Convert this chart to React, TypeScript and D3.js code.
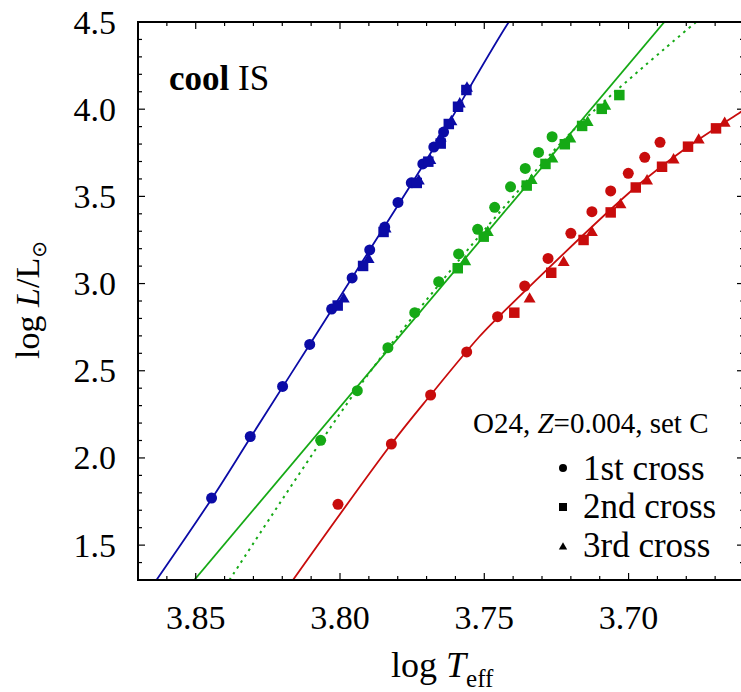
import React from 'react';
import * as d3 from 'd3';

const W = 741;
const H = 692;
const plot = { left: 138, right: 744, top: 22, bottom: 580 };

// [log Teff, log L] for each instability-strip crossing
const blueFirst: [number, number][] = [
  [3.8445, 1.770], [3.8311, 2.123], [3.8199, 2.410], [3.8105, 2.651], [3.8029, 2.854],
  [3.7958, 3.032], [3.7897, 3.193], [3.7845, 3.324], [3.7799, 3.465], [3.7753, 3.578],
  [3.7713, 3.686], [3.7675, 3.783], [3.7641, 3.869],
];
const blueSecond: [number, number][] = [
  [3.8008, 2.874], [3.7920, 3.101], [3.7849, 3.296], [3.7734, 3.577], [3.7694, 3.699],
  [3.7651, 3.803], [3.7623, 3.915], [3.7591, 4.014], [3.7562, 4.110],
];
const blueThird: [number, number][] = [
  [3.7987, 2.911], [3.7901, 3.138], [3.7842, 3.313], [3.7727, 3.588], [3.7687, 3.705],
  [3.7651, 3.835], [3.7614, 3.928], [3.7585, 4.030], [3.7560, 4.120],
];

const greenFirst: [number, number][] = [
  [3.8067, 2.101], [3.7940, 2.386], [3.7834, 2.632], [3.7741, 2.833], [3.7658, 3.011],
  [3.7589, 3.170], [3.7523, 3.311], [3.7464, 3.437], [3.7409, 3.555], [3.7358, 3.660],
  [3.7312, 3.752], [3.7265, 3.842],
];
const greenSecond: [number, number][] = [
  [3.7592, 3.088], [3.7502, 3.269], [3.7353, 3.562], [3.7288, 3.686], [3.7221, 3.799],
  [3.7161, 3.904], [3.7093, 4.002], [3.7032, 4.081],
];
const greenThird: [number, number][] = [
  [3.7566, 3.125], [3.7488, 3.293], [3.7336, 3.591], [3.7264, 3.714], [3.7202, 3.829],
  [3.7142, 3.924], [3.7081, 4.017],
];

const redFirst: [number, number][] = [
  [3.8007, 1.734], [3.7822, 2.080], [3.7686, 2.361], [3.7561, 2.608], [3.7454, 2.810],
  [3.7360, 2.986], [3.7279, 3.144], [3.7200, 3.288], [3.7127, 3.412], [3.7062, 3.531],
  [3.7001, 3.632], [3.6944, 3.724], [3.6891, 3.810],
];
const redSecond: [number, number][] = [
  [3.7396, 2.833], [3.7268, 3.062], [3.7156, 3.250], [3.7062, 3.408], [3.6975, 3.551],
  [3.6884, 3.670], [3.6794, 3.785], [3.6697, 3.890],
];
const redThird: [number, number][] = [
  [3.7343, 2.911], [3.7225, 3.120], [3.7127, 3.292], [3.7028, 3.451], [3.6936, 3.588],
  [3.6844, 3.709], [3.6757, 3.823], [3.6667, 3.919],
];

// Fitted edges of the strip
const blueEdge: [number, number][] = [
  [3.8636, 1.3], [3.8445, 1.765], [3.8309, 2.120], [3.8105, 2.651], [3.7897, 3.193],
  [3.7675, 3.777], [3.7415, 4.5], [3.735, 4.65],
];
const greenEdge: [number, number][] = [[3.8505, 1.3], [3.6876, 4.5]];
const greenEdgeAlt: [number, number][] = [
  [3.8383, 1.3], [3.7942, 2.390], [3.7658, 2.992], [3.7410, 3.479], [3.7180, 3.898],
  [3.6766, 4.5],
];
const redEdge: [number, number][] = [
  [3.8163, 1.3], [3.7822, 2.080], [3.7686, 2.361], [3.7519, 2.692], [3.7450, 2.810],
  [3.6976, 3.552], [3.6794, 3.785], [3.6615, 3.980], [3.6584, 4.013],
];

const xMajor = [3.85, 3.8, 3.75, 3.7];
const xLabels = ['3.85', '3.80', '3.75', '3.70'];
const yMajor = [1.5, 2.0, 2.5, 3.0, 3.5, 4.0, 4.5];
const yLabels = ['1.5', '2.0', '2.5', '3.0', '3.5', '4.0', '4.5'];

const BLUE = '#0b0ba6';
const GREEN = '#15a915';
const RED = '#c80c0c';

const FONT = '"Liberation Serif", "Times New Roman", serif';

const x = d3.scaleLinear().domain([3.87, 3.66]).range([plot.left, plot.right]);
const y = d3.scaleLinear().domain([1.3, 4.5]).range([plot.bottom, plot.top]);

const xMinor = d3.range(366, 388).map((v) => v / 100);
const yMinor = d3.range(13, 46).map((v) => v / 10);

const circlePath = d3.symbol(d3.symbolCircle, 95)()!;
const squarePath = d3.symbol(d3.symbolSquare, 110)()!;
const trianglePath = d3.symbol(d3.symbolTriangle, 62)()!;

const smoothLine = d3
  .line<[number, number]>()
  .x((d) => x(d[0]))
  .y((d) => y(d[1]))
  .curve(d3.curveCatmullRom.alpha(0.5));

const straightLine = d3
  .line<[number, number]>()
  .x((d) => x(d[0]))
  .y((d) => y(d[1]));

function Markers({ data, path, color }: { data: [number, number][]; path: string; color: string }) {
  return (
    <g fill={color}>
      {data.map((d, i) => (
        <path key={i} d={path} transform={`translate(${x(d[0])},${y(d[1])})`} />
      ))}
    </g>
  );
}

export default function App() {
  const isMajorX = (v: number) => xMajor.some((m) => Math.abs(m - v) < 1e-6);
  const isMajorY = (v: number) => yMajor.some((m) => Math.abs(m - v) < 1e-6);
  return (
    <svg
      width={W}
      height={H}
      style={{ position: 'absolute', left: 0, top: 0, background: '#fff' }}
      fontFamily={FONT}
    >
      <defs>
        <clipPath id="plotArea">
          <rect x={plot.left} y={plot.top} width={plot.right - plot.left} height={plot.bottom - plot.top} />
        </clipPath>
      </defs>

      <g clipPath="url(#plotArea)">
        <path d={smoothLine(blueEdge)!} fill="none" stroke={BLUE} strokeWidth={1.8} />
        <path d={straightLine(greenEdge)!} fill="none" stroke={GREEN} strokeWidth={1.8} />
        <path
          d={smoothLine(greenEdgeAlt)!}
          fill="none"
          stroke={GREEN}
          strokeWidth={2}
          strokeDasharray="2.5 4.5"
        />
        <path d={smoothLine(redEdge)!} fill="none" stroke={RED} strokeWidth={1.8} />

        <Markers data={blueFirst} path={circlePath} color={BLUE} />
        <Markers data={blueThird} path={trianglePath} color={BLUE} />
        <Markers data={blueSecond} path={squarePath} color={BLUE} />
        <Markers data={greenFirst} path={circlePath} color={GREEN} />
        <Markers data={greenThird} path={trianglePath} color={GREEN} />
        <Markers data={greenSecond} path={squarePath} color={GREEN} />
        <Markers data={redFirst} path={circlePath} color={RED} />
        <Markers data={redThird} path={trianglePath} color={RED} />
        <Markers data={redSecond} path={squarePath} color={RED} />
      </g>

      {/* frame ticks */}
      <g stroke="#000" strokeWidth={1.2}>
        {xMinor.map((v, i) => {
          const len = isMajorX(v) ? 7 : 4;
          const px = x(v);
          return (
            <g key={`xt${i}`}>
              <line x1={px} x2={px} y1={plot.bottom} y2={plot.bottom - len} />
              <line x1={px} x2={px} y1={plot.top} y2={plot.top + len} />
            </g>
          );
        })}
        {yMinor.map((v, i) => {
          const len = isMajorY(v) ? 7 : 4;
          const py = y(v);
          return (
            <g key={`yt${i}`}>
              <line x1={plot.left} x2={plot.left + len} y1={py} y2={py} />
              <line x1={plot.right} x2={plot.right - len} y1={py} y2={py} />
            </g>
          );
        })}
      </g>
      <rect
        x={plot.left}
        y={plot.top}
        width={plot.right - plot.left}
        height={plot.bottom - plot.top}
        fill="none"
        stroke="#000"
        strokeWidth={2}
      />

      {/* tick labels */}
      <g fontSize={34} fill="#000">
        {xMajor.map((v, i) => (
          <text key={`xl${i}`} x={x(v)} y={629} textAnchor="middle">
            {xLabels[i]}
          </text>
        ))}
        {yMajor.map((v, i) => (
          <text key={`yl${i}`} x={116} y={y(v) + 11.5} textAnchor="end">
            {yLabels[i]}
          </text>
        ))}
      </g>

      {/* axis titles */}
      <text x={391} y={677} fontSize={36} fill="#000">
        log <tspan fontStyle="italic">T</tspan>
        <tspan fontSize={25} dy={10}>eff</tspan>
      </text>
      <text
        transform="translate(39,300) rotate(-90)"
        fontSize={34}
        fill="#000"
        textAnchor="middle"
      >
        log <tspan fontStyle="italic">L</tspan>/L
        <tspan fontSize={20} dy={7} fontFamily='"DejaVu Sans", sans-serif'>⊙</tspan>
      </text>

      <text x={169} y={90} fontSize={35} fill="#000">
        <tspan fontWeight="bold">cool</tspan> IS
      </text>

      {/* legend */}
      <text x={473} y={433} fontSize={29} fill="#000">
        O24, <tspan fontStyle="italic">Z</tspan>=0.004, set C
      </text>
      <g fill="#000">
        <circle cx={563} cy={468} r={4} />
        <rect x={559} y={503} width={8} height={8} />
        <path d={d3.symbol(d3.symbolTriangle, 30)()!} transform="translate(563,547)" />
      </g>
      <g fontSize={35} fill="#000">
        <text x={583} y={480}>1st cross</text>
        <text x={583} y={518}>2nd cross</text>
        <text x={583} y={557}>3rd cross</text>
      </g>
    </svg>
  );
}
